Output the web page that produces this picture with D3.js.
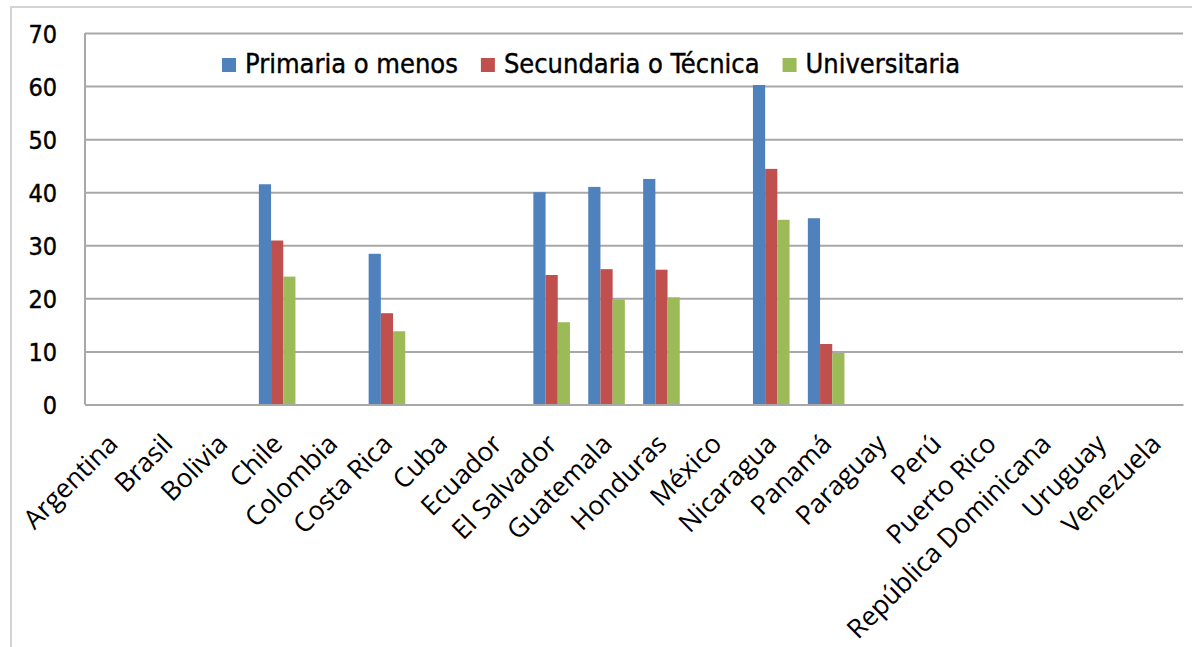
<!DOCTYPE html>
<html>
<head>
<meta charset="utf-8">
<script src="https://cdn.jsdelivr.net/npm/d3@7"></script>
<style>
body { margin: 0; background: #fff; }
</style>
</head>
<body>
<div id="chart_area"></div>
<script>
// data
var sCountries = ["Argentina", "Brasil", "Bolivia", "Chile", "Colombia", "Costa Rica", "Cuba", "Ecuador",
	"El Salvador", "Guatemala", "Honduras", "México", "Nicaragua", "Panamá", "Paraguay", "Perú",
	"Puerto Rico", "República Dominicana", "Uruguay", "Venezuela"];
var sSeriesNames = ["Primaria o menos", "Secundaria o Técnica", "Universitaria"];
var sPrimaria = [null, null, null, 41.5, null, 28.4, null, null, 40.0, 41.0, 42.5, null, 60.2, 35.1, null, null, null, null, null, null];
var sSecundaria = [null, null, null, 30.9, null, 17.2, null, null, 24.4, 25.5, 25.4, null, 44.4, 11.4, null, null, null, null, null, null];
var sUniversitaria = [null, null, null, 24.1, null, 13.8, null, null, 15.5, 19.8, 20.2, null, 34.8, 9.7, null, null, null, null, null, null];
var sYTicks = [0, 10, 20, 30, 40, 50, 60, 70];
var sColors = ["#4f81bd", "#c0504d", "#9bbb59"];

var sSeries = [sPrimaria, sSecundaria, sUniversitaria];

//get the area
var sFrameWidth = 1192;
var sFrameHeight = 647;
var sMargin = { top: 33, right: 9, bottom: 242.5, left: 85 };
var sCanvasWidth = sFrameWidth - sMargin.left - sMargin.right;
var sCanvasHeight = sFrameHeight - sMargin.top - sMargin.bottom;

var sFrame = d3.select("#chart_area").append("svg")
	.attr("width", sFrameWidth)
	.attr("height", sFrameHeight);

//outer border of the chart box
sFrame.append("path")
	.attr("d", "M11," + sFrameHeight + "V7H" + sFrameWidth)
	.attr("fill", "none")
	.attr("stroke", "#d4d4d4")
	.attr("stroke-width", 2);

var sCanvas = sFrame.append("g")
	.attr("transform", "translate(" + sMargin.left + "," + sMargin.top + ")");

//scales
var sX = d3.scaleBand().domain(sCountries).range([0, sCanvasWidth]).padding(0);
var sInner = d3.scaleBand().domain(d3.range(sSeries.length)).range([0, sX.bandwidth()])
	.paddingInner(0).paddingOuter(0.75);
var sY = d3.scaleLinear().domain([0, 70]).range([sCanvasHeight, 0]);

//y axis with gridlines
var sYAxis = sCanvas.append("g")
	.call(d3.axisLeft(sY).tickValues(sYTicks).tickSize(-sCanvasWidth).tickPadding(28));
sYAxis.select(".domain").remove();
sYAxis.selectAll("line").attr("stroke", "#a8a8a8").attr("stroke-width", 2);
sYAxis.selectAll("text")
	.attr("font-family", "'DejaVu Sans Condensed', 'DejaVu Sans', sans-serif")
	.attr("font-size", 25)
	.attr("fill", "#000")
	.attr("stroke", "#000")
	.attr("stroke-width", 0.4)
	.attr("dy", "0.36em");

//left axis line
sCanvas.append("line")
	.attr("x1", 0).attr("x2", 0)
	.attr("y1", 0).attr("y2", sCanvasHeight)
	.attr("stroke", "#a8a8a8").attr("stroke-width", 2);

//bars
sSeries.forEach(function(pValues, pIndex) {
	sCanvas.append("g").selectAll("rect")
		.data(pValues.map(function(v, i) { return { c: sCountries[i], v: v }; })
			.filter(function(d) { return d.v !== null; }))
		.enter().append("rect")
		.attr("x", function(d) { return sX(d.c) + sInner(pIndex); })
		.attr("width", sInner.bandwidth())
		.attr("y", function(d) { return sY(d.v); })
		.attr("height", function(d) { return sCanvasHeight - sY(d.v); })
		.attr("fill", sColors[pIndex]);
});

//x axis
var sXAxis = sCanvas.append("g")
	.attr("transform", "translate(0," + sCanvasHeight + ")")
	.call(d3.axisBottom(sX).tickSize(0).tickSizeOuter(0));
sXAxis.select(".domain").attr("stroke", "#a8a8a8").attr("stroke-width", 2);
sXAxis.selectAll("text")
	.attr("font-family", "'Open Sans', sans-serif")
	.attr("font-size", 26.5)
	.attr("fill", "#000")
	.attr("text-anchor", "end")
	.attr("y", 0)
	.attr("dy", 0)
	.attr("transform", "translate(7,41) rotate(-45)");

//legend
var sLegend = sFrame.append("g");
var sLegendX = 222;
sSeriesNames.forEach(function(pName, pIndex) {
	sLegend.append("rect")
		.attr("x", sLegendX).attr("y", 58)
		.attr("width", 14).attr("height", 14)
		.attr("fill", sColors[pIndex]);
	var sText = sLegend.append("text")
		.attr("x", sLegendX + 23).attr("y", 73)
		.attr("font-family", "'DejaVu Sans Condensed', 'DejaVu Sans', sans-serif")
		.attr("font-size", 27)
		.attr("fill", "#000")
		.attr("stroke", "#000")
		.attr("stroke-width", 0.4)
		.text(pName);
	sLegendX = sLegendX + 23 + sText.node().getComputedTextLength() + 23;
});
</script>
</body>
</html>
